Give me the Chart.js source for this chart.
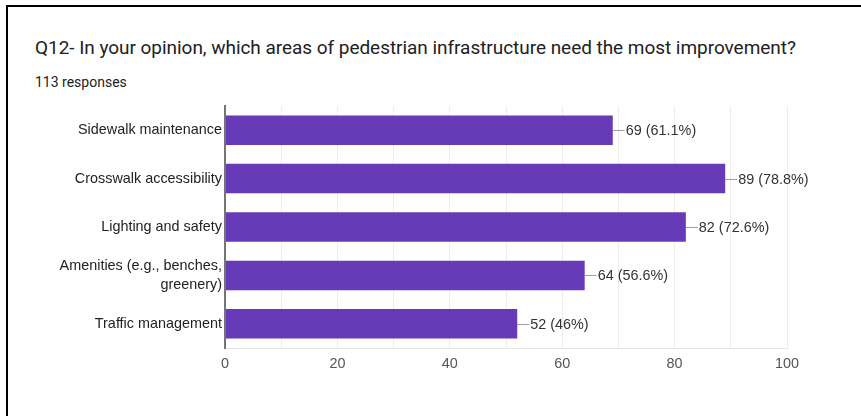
<!DOCTYPE html>
<html>
<head>
<meta charset="utf-8">
<script src="https://cdn.jsdelivr.net/npm/chart.js@4.4.1/dist/chart.umd.min.js"></script>
<style>
  html, body { margin: 0; padding: 0; background: #fff; }
  #wrap { position: relative; width: 861px; height: 416px; overflow: hidden; }
  #frame { position: absolute; left: 6px; top: 5px; right: -10px; bottom: -10px; border-left: 2px solid #000; border-top: 2px solid #000; }
  #title { position: absolute; left: 35px; top: 36px; font: 19px Roboto, sans-serif; color: #202124; white-space: nowrap; letter-spacing: -0.04px; }
  #subtitle { position: absolute; left: 35px; top: 74px; font: 14px Roboto, sans-serif; color: #202124; }
  #chart { position: absolute; left: 0; top: 0; }
</style>
</head>
<body>
<div id="wrap">
  <div id="frame"></div>
  <div id="title">Q12- In your opinion, which areas of pedestrian infrastructure need the most improvement?</div>
  <div id="subtitle">113 responses</div>
  <canvas id="chart" width="861" height="416"></canvas>
</div>
<script>
// Survey answers (multi-select), counts per option
const totalResponses = 113;
const categories = [
  'Sidewalk maintenance',
  'Crosswalk accessibility',
  'Lighting and safety',
  ['Amenities (e.g., benches,', 'greenery)'],
  'Traffic management'
];
const counts = [69, 89, 82, 64, 52];
const xTicks = [0, 20, 40, 60, 80, 100];

const barColor = '#673ab7';
const labelFont = '"Liberation Sans", Arial, sans-serif';

// count + percentage next to each bar, with a short leader line
const valueLabels = {
  id: 'valueLabels',
  afterDatasetsDraw(chart) {
    const ctx = chart.ctx;
    const meta = chart.getDatasetMeta(0);
    ctx.save();
    ctx.font = '14.4px ' + labelFont;
    ctx.textBaseline = 'middle';
    ctx.textAlign = 'left';
    meta.data.forEach((bar, i) => {
      const pct = parseFloat((counts[i] / totalResponses * 100).toFixed(1));
      ctx.strokeStyle = '#9e9e9e';
      ctx.lineWidth = 1;
      ctx.beginPath();
      ctx.moveTo(bar.x, Math.round(bar.y) + 0.5);
      ctx.lineTo(bar.x + 12, Math.round(bar.y) + 0.5);
      ctx.stroke();
      ctx.fillStyle = '#333';
      ctx.fillText(counts[i] + ' (' + pct + '%)', bar.x + 13, bar.y + 1);
    });
    ctx.restore();
  }
};

const ctx = document.getElementById('chart').getContext('2d');
new Chart(ctx, {
  type: 'bar',
  data: {
    labels: categories,
    datasets: [{
      data: counts,
      backgroundColor: barColor,
      borderWidth: 0,
      categoryPercentage: 1,
      barPercentage: 0.61
    }]
  },
  options: {
    indexAxis: 'y',
    responsive: false,
    animation: false,
    layout: { padding: { top: 106, right: 74, left: 0, bottom: 0 } },
    plugins: {
      legend: { display: false },
      tooltip: { enabled: false }
    },
    scales: {
      x: {
        min: xTicks[0],
        max: xTicks[xTicks.length - 1],
        afterFit(scale) { scale.height = 68; },
        ticks: {
          stepSize: 10,
          padding: 7,
          color: '#555',
          font: { family: labelFont, size: 14.4 },
          callback: v => xTicks.includes(v) ? v : ''
        },
        grid: {
          drawTicks: false,
          color: ctx => ctx.tick && ctx.tick.value === 0 ? '#757575' : '#ececec',
          lineWidth: ctx => ctx.tick && ctx.tick.value === 0 ? 2 : 1
        },
        border: { color: '#e6e6e6' }
      },
      y: {
        afterFit(scale) { scale.width = 225; },
        ticks: {
          padding: 3,
          color: '#222',
          font: { family: labelFont, size: 14.4, lineHeight: 1.32 }
        },
        grid: { display: false, drawTicks: false },
        border: { color: '#757575', width: 2 }
      }
    }
  },
  plugins: [valueLabels]
});
</script>
</body>
</html>
